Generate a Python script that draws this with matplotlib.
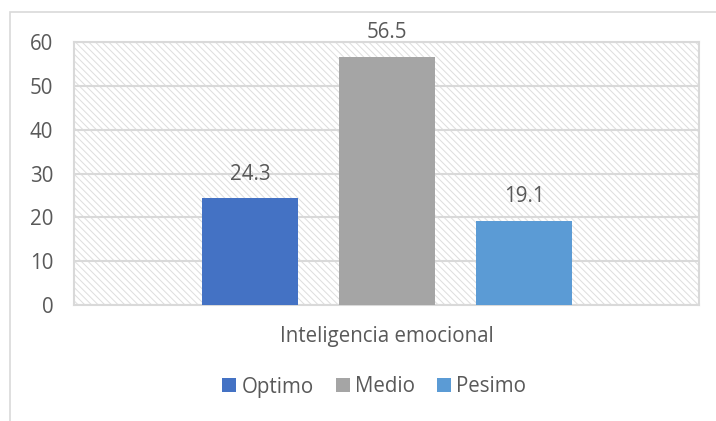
import matplotlib
matplotlib.use("Agg")
import matplotlib.pyplot as plt
from matplotlib.patches import Rectangle

# data
category = "Inteligencia emocional"
series = ["Optimo", "Medio", "Pesimo"]
values = [24.3, 56.5, 19.1]
colors = ["#4472C4", "#A5A5A5", "#5B9BD5"]
yticks = [0, 10, 20, 30, 40, 50, 60]

plt.rcParams["font.family"] = ["Open Sans", "DejaVu Sans"]
plt.rcParams["hatch.linewidth"] = 0.7
plt.rcParams["hatch.color"] = "#DDDDDD"
txt = "#595959"
grid = "#D9D9D9"
fs = 14.8

fig = plt.figure(figsize=(7.16, 4.21), dpi=100)
ax = fig.add_axes([74 / 716, 1 - 305 / 421, 625 / 716, 263 / 421])

# outer chart border (only top and left visible)
fig.add_artist(Rectangle((10 / 716, -0.05), 1.0, 1 - 12 / 421 + 0.05,
                         transform=fig.transFigure, fill=False,
                         edgecolor=grid, linewidth=1.2))

# hatched plot background
ax.add_patch(Rectangle((0, 0), 1, 1, transform=ax.transAxes, facecolor="white",
                       hatch="\\\\\\\\\\", edgecolor="#DDDDDD", linewidth=0, zorder=0))

offsets = [-1, 0, 1]
width = 0.70
for off, name, val, col in zip(offsets, series, values, colors):
    ax.bar(1 + off, val, width=width, color=col, label=name, zorder=3)
    ax.annotate(f"{val}", (1 + off, val), xytext=(0, 10), textcoords="offset points",
                ha="center", va="bottom", fontsize=fs, color=txt)

ax.set_xlim(-1.285, 3.277)
ax.set_ylim(0, 60)
ax.set_yticks(yticks)
ax.set_xticks([1])
ax.set_xticklabels([category])
ax.yaxis.grid(True, color=grid, linewidth=1.5, zorder=1)
ax.set_axisbelow(True)
ax.tick_params(axis="both", length=0, labelsize=fs, labelcolor=txt)
ax.tick_params(axis="y", pad=15)
ax.tick_params(axis="x", pad=15)
for s in ax.spines.values():
    s.set_color(grid)
    s.set_linewidth(1.5)

fig.legend(loc="center", bbox_to_anchor=(374 / 716, 1 - 387 / 421), ncol=3,
           frameon=False, fontsize=fs, labelcolor=txt, handlelength=0.68,
           handleheight=0.68, handletextpad=0.25, columnspacing=1.07,
           borderpad=0, borderaxespad=0)

fig.savefig("out.png", dpi=100, facecolor="white")
